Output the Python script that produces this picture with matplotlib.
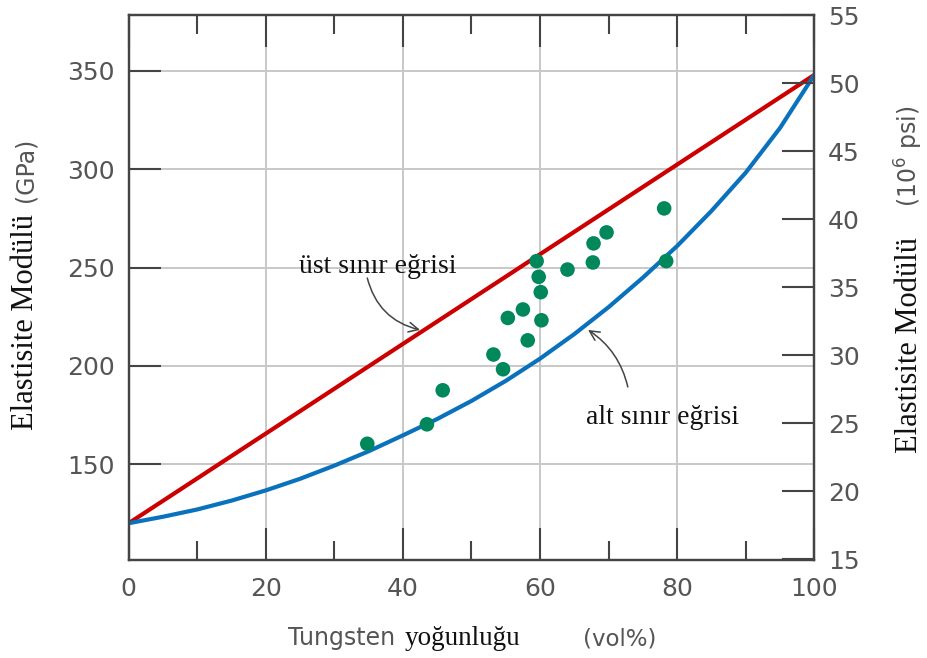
import matplotlib
matplotlib.use('Agg')
import matplotlib.pyplot as plt

# ---- data ----
tungsten_vol = [34.8, 43.5, 45.8, 53.2, 54.6, 55.3, 57.5, 58.2, 59.5, 59.8,
                60.1, 60.2, 64.0, 67.7, 67.8, 69.7, 78.1, 78.4]
modulus_gpa = [160.4, 170.3, 187.6, 205.8, 198.3, 224.4, 228.7, 213.0, 253.3, 245.3,
               237.5, 223.2, 249.0, 252.6, 262.3, 267.9, 280.1, 253.3]

upper_x = [0, 100]
upper_gpa = [120, 348]

lower_x = [0, 5, 10, 15, 20, 25, 30, 35, 40, 45, 50, 55, 60, 65, 70, 75, 80, 85, 90, 95, 100]
lower_gpa = [120.0, 123.3, 127.0, 131.5, 136.7, 142.6, 149.3, 156.6, 164.7, 173.0, 182.2,
             192.4, 203.7, 216.2, 229.9, 244.9, 261.0, 278.8, 298.3, 321.0, 348.0]

x_ticks = [0, 20, 40, 60, 80, 100]
x_minor = [10, 30, 50, 70, 90]
gpa_ticks = [150, 200, 250, 300, 350]
psi_ticks = [15, 20, 25, 30, 35, 40, 45, 50, 55]

upper_label = "üst sınır eğrisi"
lower_label = "alt sınır eğrisi"

# ---- style ----
RED = '#cc0000'
BLUE = '#0a72bd'
GREEN = '#00875c'
AX = '#444444'
TICKTXT = '#555555'
GRID = '#c8c8c8'
SERIF = ['Liberation Serif', 'DejaVu Serif']
SANS = ['DejaVu Sans']

W, H = 928, 658
fig = plt.figure(figsize=(W / 100, H / 100), dpi=100)
L, R, T, B = 128.7, 814.3, 14.7, 560.0
ax = fig.add_axes([L / W, 1 - B / H, (R - L) / W, (B - T) / H])

ax.set_xlim(0, 100)
ax.set_ylim(101.3, 378.6)

ax.set_xticks(x_ticks)
ax.set_xticks(x_minor, minor=True)
ax.set_yticks(gpa_ticks)
ax.grid(True, which='major', color=GRID, lw=1.4, zorder=0)
ax.set_axisbelow(True)

ax.tick_params(axis='x', which='major', direction='in', length=23, width=1.5, color=AX,
               top=True, bottom=True, labelsize=18, labelcolor=TICKTXT, pad=12)
ax.tick_params(axis='x', which='minor', direction='in', length=14, width=1.5, color=AX,
               top=True, bottom=True)
ax.tick_params(axis='y', which='major', direction='in', length=23, width=1.5, color=AX,
               left=True, right=False, labelsize=18, labelcolor=TICKTXT, pad=10)
for lab in ax.get_xticklabels() + ax.get_yticklabels():
    lab.set_family(SANS)
for s in ax.spines.values():
    s.set_color(AX)
    s.set_linewidth(1.6)

ax.plot(upper_x, upper_gpa, color=RED, lw=3.0, zorder=3, solid_capstyle='butt')
ax.plot(lower_x, lower_gpa, color=BLUE, lw=3.0, zorder=3, solid_joinstyle='round',
        solid_capstyle='butt')
ax.scatter(tungsten_vol, modulus_gpa, s=110, color=GREEN, edgecolors='none', zorder=5)

# right axis
ax2 = ax.twinx()
ax2.set_ylim(14.95, 55.05)
ax2.set_yticks(psi_ticks)
ax2.tick_params(axis='y', which='major', direction='in', length=23, width=1.5, color=AX,
                left=False, right=True, labelsize=18, labelcolor=TICKTXT, pad=10)
for lab in ax2.get_yticklabels():
    lab.set_family(SANS)
for s in ax2.spines.values():
    s.set_color(AX)
    s.set_linewidth(1.6)

# annotations
ax.annotate('', xy=(42.5, 218.3), xytext=(34.8, 244.7),
            arrowprops=dict(arrowstyle='->,head_length=0.7,head_width=0.35', color='#444444',
                            lw=1.1, connectionstyle='arc3,rad=0.3', shrinkA=0, shrinkB=0),
            zorder=6)
ax.annotate('', xy=(67.0, 218.3), xytext=(72.8, 189.3),
            arrowprops=dict(arrowstyle='->,head_length=0.7,head_width=0.35', color='#444444',
                            lw=1.1, connectionstyle='arc3,rad=0.2', shrinkA=0, shrinkB=0),
            zorder=6)
ax.text(36.3, 250.3, upper_label, family=SERIF, fontsize=20, color='#111111',
        ha='center', va='center', zorder=7)
ax.text(77.8, 173.6, lower_label, family=SERIF, fontsize=20, color='#111111',
        ha='center', va='center', zorder=7)


def fx(px):
    return px / W


def fy(py):
    return 1 - py / H


# x label pieces
fig.text(fx(288), fy(645), 'Tungsten', family=SANS, fontsize=17, color=TICKTXT,
         ha='left', va='baseline')
fig.text(fx(405), fy(645), 'yoğunluğu', family=SERIF, fontsize=19.5, color='#111111',
         ha='left', va='baseline')
fig.text(fx(583), fy(645), '(vol%)', family=SANS, fontsize=16.5, color=TICKTXT,
         ha='left', va='baseline')

# left y label pieces
fig.text(fx(26), fy(322), 'Elastisite Modülü', family=SERIF, fontsize=22, color='#111111',
         rotation=90, ha='center', va='center')
fig.text(fx(26), fy(170), '(GPa)', family=SANS, fontsize=17, color=TICKTXT,
         rotation=90, ha='center', va='center')

# right y label pieces
fig.text(fx(910), fy(345), 'Elastisite Modülü', family=SERIF, fontsize=22, color='#111111',
         rotation=90, ha='center', va='center')
fig.text(fx(909), fy(156), r'(10$^6$ psi)', family=SANS, fontsize=17, color=TICKTXT,
         rotation=90, ha='center', va='center')

fig.savefig('out.png', dpi=100)
